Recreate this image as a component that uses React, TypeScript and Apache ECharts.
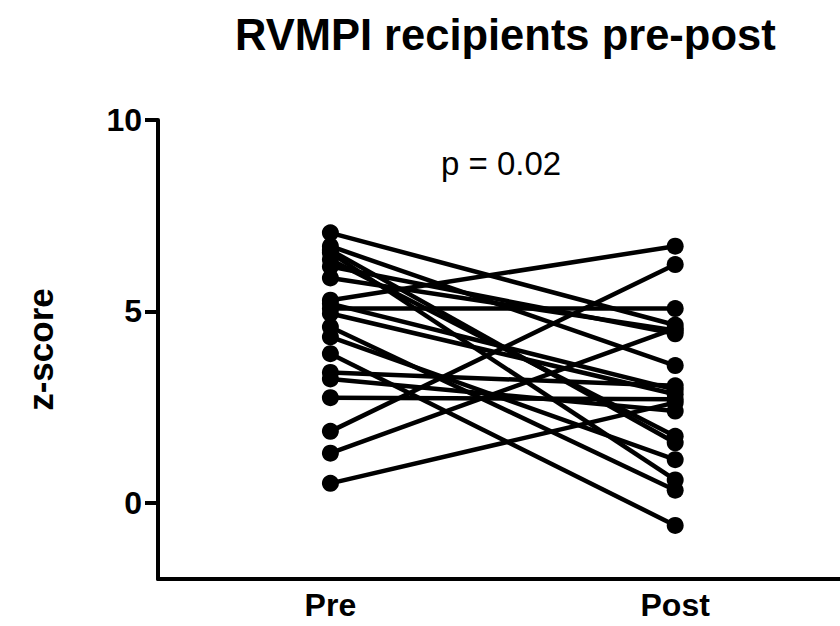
import React, { useEffect, useRef } from "react";
import * as echarts from "echarts";

const categories = ["Pre", "Post"];
const preValues = [7.05, 6.7, 6.6, 6.53, 6.35, 6.17, 5.87, 5.29, 5.2, 5.07, 4.94, 4.59, 4.33, 3.89, 3.4, 3.23, 2.74, 1.86, 1.29, 0.5];
const postValues = [4.64, 3.58, 1.56, 0.59, 1.73, 4.41, 4.5, 6.7, 2.95, 5.07, 2.83, 0.32, 1.12, -0.6, 3.05, 2.39, 2.7, 6.22, 4.55, 2.61];
const yTickValues = [0, 5, 10];
const xTickValues = [0, 1];

const FONT = "'Liberation Sans', Arial, sans-serif";

export default function App() {
  const ref = useRef<HTMLDivElement>(null);
  useEffect(() => {
    if (!ref.current) return;
    const chart = echarts.init(ref.current, null, { renderer: "svg" });
    const series = preValues.map((pre, i) => ({
      type: "line" as const,
      data: [
        [0, pre],
        [1, postValues[i]],
      ],
      symbol: "circle",
      symbolSize: 17,
      showSymbol: true,
      itemStyle: { color: "#000" },
      lineStyle: { color: "#000", width: 4.5 },
      silent: true,
      z: 3,
    }));
    chart.setOption({
      animation: false,
      backgroundColor: "#fff",
      title: {
        text: "RVMPI recipients pre-post",
        left: 230,
        top: 8,
        textStyle: { fontFamily: FONT, fontWeight: "bold", fontSize: 43.5, color: "#000" },
      },
      graphic: [
        {
          type: "text",
          left: 441,
          top: 147,
          style: { text: "p = 0.02", fontFamily: FONT, fontSize: 33, fill: "#000" },
        },
      ],
      grid: { left: 158, right: 0, top: 120, bottom: 47, containLabel: false },
      xAxis: {
        type: "value",
        min: -0.5,
        max: 1.478,
        axisLine: { onZero: false, lineStyle: { color: "#000", width: 4 } },
        axisTick: { show: false },
        axisLabel: {
          customValues: xTickValues,
          formatter: (v: number) => categories[Math.round(v)] ?? "",
          margin: 10,
          fontFamily: FONT,
          fontWeight: "bold",
          fontSize: 32,
          color: "#000",
        },
        splitLine: { show: false },
      },
      yAxis: {
        type: "value",
        min: -2,
        max: 10,
        name: "z-score",
        nameLocation: "middle",
        nameRotate: 90,
        nameGap: 100,
        nameTextStyle: { fontFamily: FONT, fontWeight: "bold", fontSize: 35, color: "#000" },
        axisLine: { show: true, onZero: false, lineStyle: { color: "#000", width: 4 } },
        axisTick: { show: true, length: 13, customValues: yTickValues, lineStyle: { color: "#000", width: 4 } },
        axisLabel: { customValues: yTickValues, margin: 16, fontFamily: FONT, fontWeight: "bold", fontSize: 32, color: "#000" },
        splitLine: { show: false },
      },
      series,
    });
    return () => chart.dispose();
  }, []);
  return <div ref={ref} style={{ position: "fixed", left: 0, top: 0, width: 840, height: 626 }} />;
}
